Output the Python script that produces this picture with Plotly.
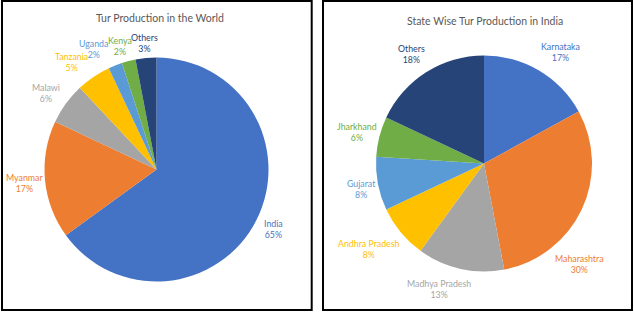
import plotly.graph_objects as go

# ---------------- data ----------------
world_labels = ["India", "Myanmar", "Malawi", "Tanzania", "Uganda", "Kenya", "Others"]
world_values = [65, 17, 6, 5, 2, 2, 3]

india_labels = ["Karnataka", "Maharashtra", "Madhya Pradesh", "Andhra Pradesh",
                "Gujarat", "Jharkhand", "Others"]
india_values = [17, 30, 13, 8, 8, 6, 18]

world_title = "Tur Production in the World"
india_title = "State Wise Tur Production in India"

# ---------------- style ----------------
W, H = 634, 312
palette = ["#4472C4", "#ED7D31", "#A5A5A5", "#FFC000", "#5B9BD5", "#70AD47", "#264478"]
FONT = "Lato, sans-serif"

def px(x):
    return x / W

def py(y):
    return 1 - y / H

# label placement (pixel centres of the two-line data labels)
world_label_pos = [(273, 229), (24, 183), (46, 93), (71, 62), (93, 49), (120, 46), (144, 43)]
india_label_pos = [(560, 52), (579, 264), (439, 289), (369, 249), (361, 189), (357, 132), (411, 54)]

fig = go.Figure()

# left pie: centre (156.5,169.5) r=112
fig.add_trace(go.Pie(
    labels=world_labels, values=world_values, sort=False, direction="clockwise",
    rotation=0, textinfo="none", hoverinfo="label+percent",
    marker=dict(colors=palette, line=dict(width=0)),
    domain=dict(x=[px(44.5), px(268.5)], y=[py(281.5), py(57.5)]),
    showlegend=False,
))
# right pie: centre (484,163.5) r~108
fig.add_trace(go.Pie(
    labels=india_labels, values=india_values, sort=False, direction="clockwise",
    rotation=0, textinfo="none", hoverinfo="label+percent",
    marker=dict(colors=palette, line=dict(width=0)),
    domain=dict(x=[px(376), px(592)], y=[py(272.5), py(54.5)]),
    showlegend=False,
))

annotations = []
for lab, val, (x, y), col in zip(world_labels, world_values, world_label_pos, palette):
    annotations.append(dict(text=f"{lab}<br>{val}%", x=px(x), y=py(y), xref="paper", yref="paper",
                            showarrow=False, xanchor="center", yanchor="middle", borderpad=0,
                            font=dict(family=FONT, size=8.8, color=col)))
for lab, val, (x, y), col in zip(india_labels, india_values, india_label_pos, palette):
    annotations.append(dict(text=f"{lab}<br>{val}%", x=px(x), y=py(y), xref="paper", yref="paper",
                            showarrow=False, xanchor="center", yanchor="middle", borderpad=0,
                            font=dict(family=FONT, size=8.8, color=col)))

annotations.append(dict(text=world_title, x=px(160), y=py(18), xref="paper", yref="paper",
                        showarrow=False, xanchor="center", yanchor="middle",
                        font=dict(family=FONT, size=10.5, color="#595959")))
annotations.append(dict(text=india_title, x=px(484.5), y=py(21), xref="paper", yref="paper",
                        showarrow=False, xanchor="center", yanchor="middle",
                        font=dict(family=FONT, size=10.5, color="#595959")))

shapes = [
    dict(type="rect", xref="paper", yref="paper", x0=px(2), x1=px(311.7), y0=py(310), y1=py(1),
         line=dict(color="black", width=2), fillcolor="rgba(0,0,0,0)"),
    dict(type="rect", xref="paper", yref="paper", x0=px(323), x1=px(632), y0=py(310), y1=py(1),
         line=dict(color="black", width=2), fillcolor="rgba(0,0,0,0)"),
]

fig.update_layout(
    width=W, height=H,
    margin=dict(l=0, r=0, t=0, b=0),
    paper_bgcolor="white", plot_bgcolor="white",
    annotations=annotations, shapes=shapes,
    font=dict(family=FONT),
)

fig.write_html("out.html", config={"displayModeBar": False},
               post_script="document.body.style.margin='0px';document.body.style.overflow='hidden';")
